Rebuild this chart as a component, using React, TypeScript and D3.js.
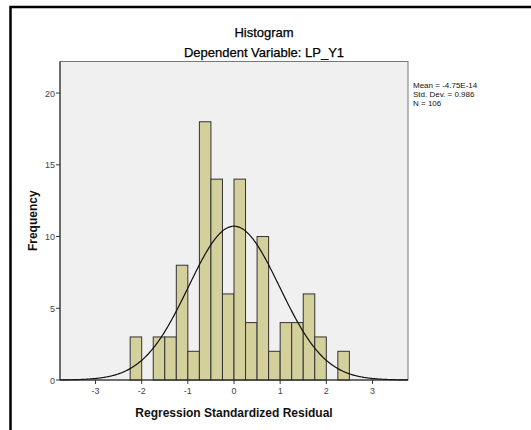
import React from "react";
import * as d3 from "d3";

const binStarts = [-2.25, -2, -1.75, -1.5, -1.25, -1, -0.75, -0.5, -0.25, 0, 0.25, 0.5, 0.75, 1, 1.25, 1.5, 1.75, 2, 2.25];
const counts = [3, 0, 3, 3, 8, 2, 18, 14, 6, 14, 4, 10, 2, 4, 4, 6, 3, 0, 2];
const binWidth = 0.25;
const xTicks = [-3, -2, -1, 0, 1, 2, 3];
const yTicks = [0, 5, 10, 15, 20];
const stats = ["Mean = -4.75E-14", "Std. Dev. = 0.986", "N = 106"];
const mean = 0;
const sd = 0.986;
const n = 106;

export default function App() {
  const W = 531, H = 430;
  const left = 60, right = 408, top = 61.5, bottom = 380;
  const x = d3.scaleLinear().domain([-3.77, 3.77]).range([left, right]);
  const y = d3.scaleLinear().domain([0, 22.2]).range([bottom, top]);
  const curvePts = d3.range(-3.77, 3.7701, 0.02).map((v) => [v, n * binWidth * Math.exp(-0.5 * ((v - mean) / sd) ** 2) / (sd * Math.sqrt(2 * Math.PI))]);
  const line = d3.line<number[]>().x((d) => x(d[0])).y((d) => y(d[1])).curve(d3.curveBasis);
  const font = "Arial, 'Liberation Sans', sans-serif";
  return (
    <svg width={W} height={H} style={{ position: "absolute", left: 0, top: 0 }} fontFamily={font}>
      <rect x={0} y={0} width={W} height={H} fill="#fff" />
      <rect x={10.5} y={7} width={W + 10} height={H + 10} fill="none" stroke="#000" strokeWidth={2.5} />
      <text x={264} y={37} textAnchor="middle" fontSize={13} fill="#000" stroke="#000" strokeWidth={0.25}>Histogram</text>
      <text x={264} y={57} textAnchor="middle" fontSize={13} fill="#000" stroke="#000" strokeWidth={0.25}>Dependent Variable: LP_Y1</text>
      <rect x={left} y={top} width={right - left} height={bottom - top} fill="#f0f0f0" stroke="#777" strokeWidth={1} />
      {binStarts.map((b, i) => counts[i] > 0 ? (
        <rect key={i} x={x(b)} y={y(counts[i])} width={x(b + binWidth) - x(b)} height={y(0) - y(counts[i])} fill="#d4d09b" stroke="#333" strokeWidth={1} />
      ) : null)}
      <path d={line(curvePts) || ""} fill="none" stroke="#111" strokeWidth={1.2} />
      <line x1={left} x2={left} y1={top} y2={bottom} stroke="#222" strokeWidth={1} />
      <line x1={left} x2={right} y1={bottom} y2={bottom} stroke="#222" strokeWidth={1} />
      {yTicks.map((t) => (
        <g key={t}>
          <line x1={left - 4} x2={left} y1={y(t)} y2={y(t)} stroke="#333" />
          <text x={left - 5} y={y(t) + 3.5} textAnchor="end" fontSize={9} fill="#444">{t}</text>
        </g>
      ))}
      {xTicks.map((t) => (
        <g key={t}>
          <line x1={x(t)} x2={x(t)} y1={bottom} y2={bottom + 4} stroke="#333" />
          <text x={x(t)} y={bottom + 14} textAnchor="middle" fontSize={9} fill="#444">{t}</text>
        </g>
      ))}
      <text transform={`translate(37,${(top + bottom) / 2}) rotate(-90)`} textAnchor="middle" fontSize={12} fontWeight="bold" fill="#111">Frequency</text>
      <text x={(left + right) / 2} y={417} textAnchor="middle" fontSize={12} fontWeight="bold" fill="#111">Regression Standardized Residual</text>
      {stats.map((s, i) => (
        <text key={i} x={413} y={88 + i * 9} fontSize={8} fill="#111">{s}</text>
      ))}
    </svg>
  );
}
